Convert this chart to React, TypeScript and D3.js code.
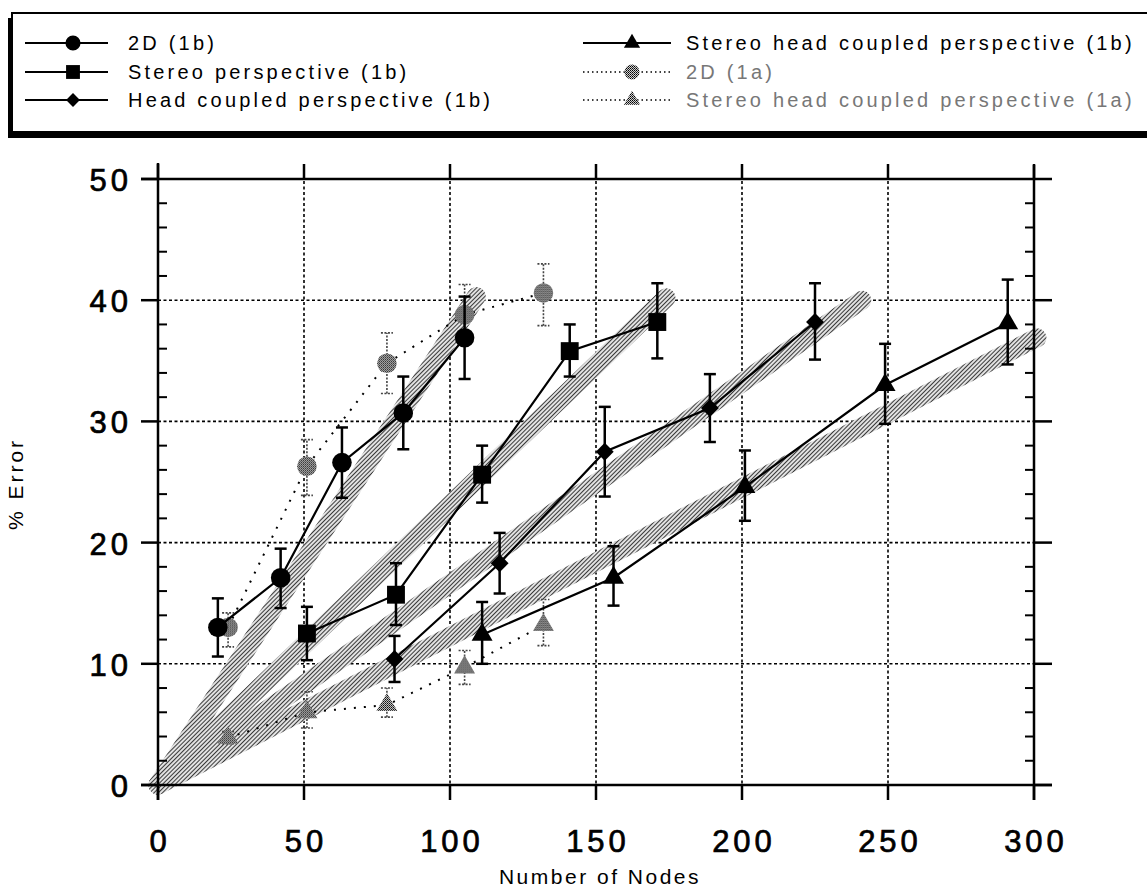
import React, { useEffect, useRef } from "react";
import * as d3 from "d3";

const W = 1147;
const H = 894;

// n = number of nodes, e = % error, lo / hi = error bar ends
const data2D1b = [
  { n: 20.5, e: 13.0, lo: 10.6, hi: 15.4 },
  { n: 42, e: 17.1, lo: 14.6, hi: 19.5 },
  { n: 63, e: 26.6, lo: 23.7, hi: 29.5 },
  { n: 84, e: 30.7, lo: 27.7, hi: 33.7 },
  { n: 105, e: 36.9, lo: 33.5, hi: 40.3 },
];
const dataStereo1b = [
  { n: 51, e: 12.5, lo: 10.3, hi: 14.7 },
  { n: 81.5, e: 15.7, lo: 13.2, hi: 18.3 },
  { n: 111, e: 25.6, lo: 23.3, hi: 28.0 },
  { n: 141, e: 35.8, lo: 33.7, hi: 38.0 },
  { n: 171, e: 38.2, lo: 35.2, hi: 41.4 },
];
const dataHead1b = [
  { n: 81, e: 10.4, lo: 8.5, hi: 12.3 },
  { n: 117, e: 18.3, lo: 15.8, hi: 20.8 },
  { n: 153, e: 27.5, lo: 23.8, hi: 31.2 },
  { n: 189, e: 31.1, lo: 28.3, hi: 33.9 },
  { n: 225, e: 38.2, lo: 35.1, hi: 41.4 },
];
const dataStereoHead1b = [
  { n: 111, e: 12.4, lo: 10.0, hi: 15.1 },
  { n: 156, e: 17.1, lo: 14.8, hi: 19.7 },
  { n: 201, e: 24.6, lo: 21.8, hi: 27.6 },
  { n: 249, e: 33.0, lo: 29.8, hi: 36.4 },
  { n: 291, e: 38.1, lo: 34.7, hi: 41.7 },
];
const data2D1a = [
  { n: 24, e: 13.0, lo: 11.4, hi: 14.2 },
  { n: 51, e: 26.3, lo: 23.9, hi: 28.5 },
  { n: 78.4, e: 34.8, lo: 32.3, hi: 37.3 },
  { n: 105, e: 38.8, lo: 36.5, hi: 41.3 },
  { n: 132, e: 40.6, lo: 37.9, hi: 43.0 },
];
const dataStereoHead1a = [
  { n: 24, e: 3.9, lo: 3.4, hi: 4.4 },
  { n: 51, e: 6.0, lo: 4.7, hi: 7.7 },
  { n: 78.4, e: 6.6, lo: 5.6, hi: 8.0 },
  { n: 105, e: 9.7, lo: 8.3, hi: 11.1 },
  { n: 132, e: 13.2, lo: 11.5, hi: 15.3 },
];

// shaded fit bands, start and end points
const fitBands = [
  [[0, 0], [109, 40.3]],
  [[0, 0], [174, 40.2]],
  [[0, 0], [241, 40.0]],
  [[0, 0], [301, 36.9]],
];

const xTicks = [0, 50, 100, 150, 200, 250, 300];
const yTicks = [0, 10, 20, 30, 40, 50];
const yMinor = d3.range(0, 51, 2);

const series = [
  { name: "2D (1b)", data: data2D1b, shape: "circle", faded: false },
  { name: "Stereo perspective (1b)", data: dataStereo1b, shape: "square", faded: false },
  { name: "Head coupled perspective (1b)", data: dataHead1b, shape: "diamond", faded: false },
  { name: "Stereo head coupled perspective (1b)", data: dataStereoHead1b, shape: "triangle", faded: false },
  { name: "2D (1a)", data: data2D1a, shape: "circle", faded: true },
  { name: "Stereo head coupled perspective (1a)", data: dataStereoHead1a, shape: "triangle", faded: true },
];

const FONT = "'Liberation Sans', Arial, Helvetica, sans-serif";

const markerPath = (shape, k = 1) => {
  if (shape === "circle") return d3.symbol(d3.symbolCircle, 300 * k)();
  if (shape === "square") return d3.symbol(d3.symbolSquare, 320 * k)();
  if (shape === "diamond") return d3.symbol(d3.symbolSquare, 160 * k)();
  return d3.symbol(d3.symbolTriangle, 190 * k)();
};

const App = () => {
  const svgRef = useRef(null);

  useEffect(() => {
    const svg = d3.select(svgRef.current);
    svg.selectAll("*").remove();

    const x = d3.scaleLinear().domain([0, 300]).range([158, 1034]);
    const y = d3.scaleLinear().domain([0, 50]).range([785, 179]);

    // patterns for the halftone look
    const defs = svg.append("defs");
    const hatch = defs
      .append("pattern")
      .attr("id", "hatch")
      .attr("patternUnits", "userSpaceOnUse")
      .attr("width", 3)
      .attr("height", 3)
      .attr("patternTransform", "rotate(45)");
    hatch.append("rect").attr("width", 3).attr("height", 3).attr("fill", "#e2e2e2");
    hatch.append("rect").attr("width", 1).attr("height", 3).attr("fill", "#3a3a3a");

    const stip = defs
      .append("pattern")
      .attr("id", "stipple")
      .attr("patternUnits", "userSpaceOnUse")
      .attr("width", 2)
      .attr("height", 2);
    stip.append("rect").attr("width", 2).attr("height", 2).attr("fill", "#d0d0d0");
    stip.append("rect").attr("width", 1).attr("height", 1).attr("fill", "#000");
    stip.append("rect").attr("x", 1).attr("y", 1).attr("width", 1).attr("height", 1).attr("fill", "#333");

    svg.append("rect").attr("width", W).attr("height", H).attr("fill", "#fff");

    // ---- legend box
    const lg = svg.append("g");
    lg.append("rect").attr("x", 8).attr("y", 18).attr("width", 1150).attr("height", 120).attr("fill", "#000");
    lg.append("rect")
      .attr("x", 12)
      .attr("y", 13)
      .attr("width", 1150)
      .attr("height", 119)
      .attr("fill", "#fff")
      .attr("stroke", "#000")
      .attr("stroke-width", 2);

    const rows = [43, 72, 100];
    series.forEach((s, i) => {
      const col = i < 3 ? 0 : 1;
      const ry = rows[i % 3];
      const x0 = col === 0 ? 25 : 583;
      const x1 = col === 0 ? 108 : 671;
      const mx = col === 0 ? 73 : 632;
      const tx = col === 0 ? 128 : 686;
      lg.append("line")
        .attr("x1", x0)
        .attr("x2", x1)
        .attr("y1", ry)
        .attr("y2", ry)
        .attr("stroke", "#000")
        .attr("stroke-width", s.faded ? 1.5 : 2)
        .attr("stroke-dasharray", s.faded ? "1.5,3" : null);
      lg.append("path")
        .attr("d", markerPath(s.shape, 0.6))
        .attr("transform", `translate(${mx},${ry})${s.shape === "diamond" ? " rotate(45)" : ""}`)
        .attr("fill", s.faded ? "url(#stipple)" : "#000");
      lg.append("text")
        .attr("x", tx)
        .attr("y", ry + 7)
        .attr("font-family", FONT)
        .attr("font-size", 20)
        .attr("letter-spacing", "3.2px")
        .attr("fill", s.faded ? "#777" : "#000")
        .text(s.name);
    });

    // ---- grid
    const grid = svg.append("g").attr("stroke", "#000").attr("stroke-width", 1.6).attr("stroke-dasharray", "3,2.5");
    xTicks.slice(1, -1).forEach((t) => {
      grid.append("line").attr("x1", x(t)).attr("x2", x(t)).attr("y1", y(0) + 15).attr("y2", y(50));
    });
    yTicks.slice(1, -1).forEach((t) => {
      grid.append("line").attr("x1", x(0)).attr("x2", x(300)).attr("y1", y(t)).attr("y2", y(t));
    });

    // ---- fit bands
    const line = d3
      .line()
      .x((d) => x(d[0]))
      .y((d) => y(d[1]));
    fitBands.forEach((b) => {
      svg.append("path")
        .attr("d", line(b))
        .attr("fill", "none")
        .attr("stroke", "url(#hatch)")
        .attr("stroke-width", 19)
        .attr("stroke-linecap", "round");
    });

    // ---- axes frame
    const ax = svg.append("g").attr("stroke", "#000").attr("stroke-width", 2.5);
    ax.append("line").attr("x1", x(0)).attr("x2", x(0)).attr("y1", y(50) - 16).attr("y2", y(0) + 15);
    ax.append("line").attr("x1", x(300)).attr("x2", x(300)).attr("y1", y(50) - 14).attr("y2", y(0) + 15);
    ax.append("line").attr("x1", x(0) - 17).attr("x2", x(300) + 18).attr("y1", y(0)).attr("y2", y(0));
    ax.append("line").attr("x1", x(0) - 17).attr("x2", x(300)).attr("y1", y(50)).attr("y2", y(50));
    yTicks.forEach((t) => {
      ax.append("line").attr("x1", x(0) - 17).attr("x2", x(0)).attr("y1", y(t)).attr("y2", y(t));
      ax.append("line").attr("x1", x(300)).attr("x2", x(300) + 18).attr("y1", y(t)).attr("y2", y(t));
    });
    yMinor.filter((t) => t % 10 !== 0).forEach((t) => {
      ax.append("line").attr("x1", x(0)).attr("x2", x(0) + 9).attr("y1", y(t)).attr("y2", y(t)).attr("stroke-width", 2);
      ax.append("line").attr("x1", x(300) - 9).attr("x2", x(300)).attr("y1", y(t)).attr("y2", y(t)).attr("stroke-width", 2);
    });
    xTicks.forEach((t) => {
      ax.append("line").attr("x1", x(t)).attr("x2", x(t)).attr("y1", y(0)).attr("y2", y(0) + 15);
      ax.append("line").attr("x1", x(t)).attr("x2", x(t)).attr("y1", y(50) - 15).attr("y2", y(50));
    });

    // ---- tick labels (slightly heavier than regular, like the scan)
    yTicks.forEach((t) => {
      svg.append("text")
        .attr("x", 132)
        .attr("y", y(t) + 12)
        .attr("text-anchor", "end")
        .attr("font-family", FONT)
        .attr("font-size", 31)
        .attr("letter-spacing", "4px")
        .attr("stroke", "#000")
        .attr("stroke-width", 0.7)
        .text(t);
    });
    xTicks.forEach((t) => {
      svg.append("text")
        .attr("x", x(t) + 2)
        .attr("y", 852)
        .attr("text-anchor", "middle")
        .attr("font-family", FONT)
        .attr("font-size", 31)
        .attr("letter-spacing", "4px")
        .attr("stroke", "#000")
        .attr("stroke-width", 0.7)
        .text(t);
    });

    svg.append("text")
      .attr("x", 600)
      .attr("y", 884)
      .attr("text-anchor", "middle")
      .attr("font-family", FONT)
      .attr("font-size", 21)
      .attr("letter-spacing", "2.5px")
      .text("Number of Nodes");
    svg.append("text")
      .attr("transform", "translate(23,484) rotate(-90)")
      .attr("text-anchor", "middle")
      .attr("font-family", FONT)
      .attr("font-size", 21)
      .attr("letter-spacing", "3px")
      .text("% Error");

    // ---- series: faded (1a) first, then 1b on top
    const ordered = [...series.filter((s) => s.faded), ...series.filter((s) => !s.faded)];
    const dline = d3
      .line()
      .x((d) => x(d.n))
      .y((d) => y(d.e));
    ordered.forEach((s) => {
      const g = svg.append("g");
      g.append("path")
        .datum(s.data)
        .attr("d", dline)
        .attr("fill", "none")
        .attr("stroke", "#000")
        .attr("stroke-width", s.faded ? 2 : 2.2)
        .attr("stroke-dasharray", s.faded ? "2,8" : null);

      const eb = g
        .append("g")
        .attr("stroke", s.faded ? "#444" : "#000")
        .attr("stroke-width", s.faded ? 1.6 : 2.5)
        .attr("stroke-dasharray", s.faded ? "2,1.5" : null);
      s.data.forEach((d) => {
        eb.append("line").attr("x1", x(d.n)).attr("x2", x(d.n)).attr("y1", y(d.lo)).attr("y2", y(d.hi));
        eb.append("line").attr("x1", x(d.n) - 6).attr("x2", x(d.n) + 6).attr("y1", y(d.lo)).attr("y2", y(d.lo));
        eb.append("line").attr("x1", x(d.n) - 6).attr("x2", x(d.n) + 6).attr("y1", y(d.hi)).attr("y2", y(d.hi));
      });

      g.selectAll(".m")
        .data(s.data)
        .enter()
        .append("path")
        .attr("d", markerPath(s.shape))
        .attr("transform", (d) => `translate(${x(d.n)},${y(d.e)})${s.shape === "diamond" ? " rotate(45)" : ""}`)
        .attr("fill", s.faded ? "url(#stipple)" : "#000");
    });
  }, []);

  return (
    <svg
      ref={svgRef}
      width={W}
      height={H}
      style={{ position: "absolute", left: 0, top: 0, display: "block" }}
    />
  );
};

export default App;
